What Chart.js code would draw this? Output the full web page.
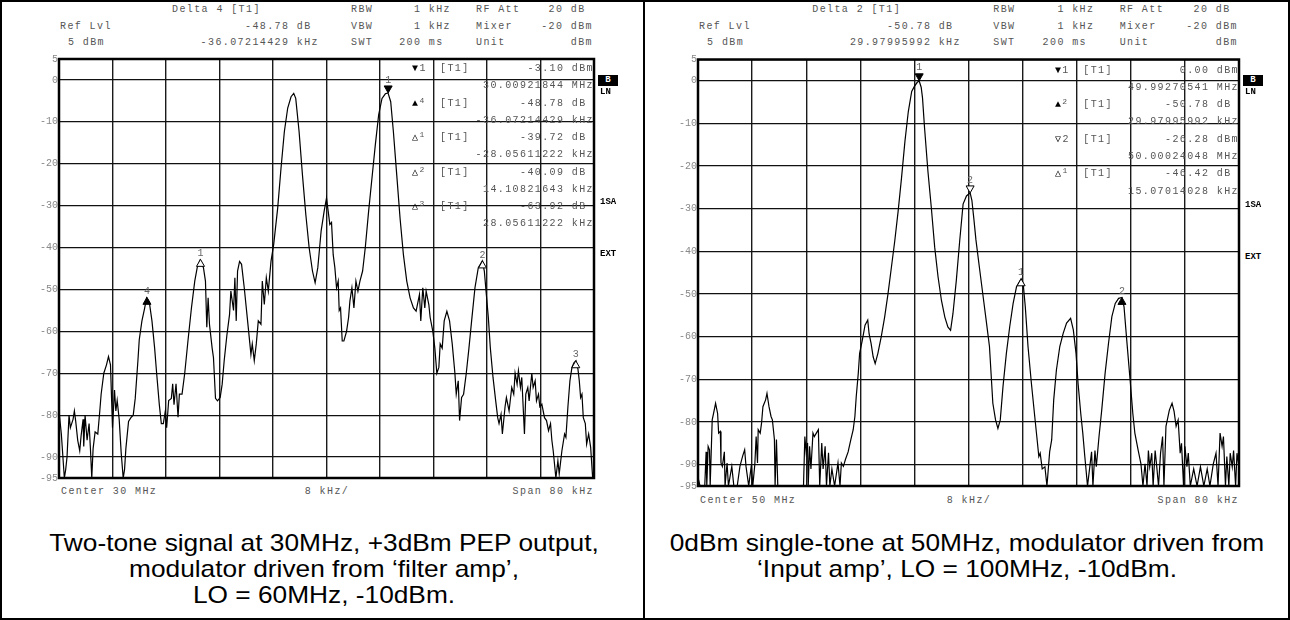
<!DOCTYPE html>
<html>
<head>
<meta charset="utf-8">
<script src="https://cdn.jsdelivr.net/npm/chart.js@4.4.1/dist/chart.umd.min.js"></script>
<style>
  body { margin: 0; background: #fff; }
  #page { position: relative; width: 1290px; height: 620px; overflow: hidden; background: #fff; }
  #outer { position: absolute; left: 0; top: 0; width: 1290px; height: 620px; border: 2px solid #000; box-sizing: border-box; }
  #divider { position: absolute; left: 643px; top: 0; width: 2px; height: 620px; background: #000; }
  canvas { position: absolute; }
  .mono { position: absolute; font-family: "Liberation Mono", "Courier New", monospace; font-size: 10px; letter-spacing: 1.4px; color: #555; white-space: pre; line-height: 12px; }
  .mono sup { font-size: 8px; vertical-align: 3px; line-height: 0; }
  .sym { color: #000; }
  .side { position: absolute; font-family: "Liberation Mono", monospace; font-weight: bold; font-size: 9px; color: #000; line-height: 10px; }
  .bbox { position: absolute; width: 20px; height: 11px; background: #000; color: #fff; font-family: "Liberation Mono", monospace; font-weight: bold; font-size: 9px; line-height: 11px; text-align: center; }
  .cap { position: absolute; width: 640px; font-family: "Liberation Sans", Arial, sans-serif; font-size: 24px; line-height: 26px; text-align: center; color: #000; transform: scaleX(1.095); transform-origin: 50% 0; }
</style>
</head>
<body>
<div id="page">
  <div id="outer"></div>
  <div id="divider"></div>
  <canvas id="chartLeft" width="570" height="435" style="left:30px;top:50px"></canvas>
  <canvas id="chartRight" width="577" height="443" style="left:668px;top:50px"></canvas>
  <div class="cap" style="left:4px;top:530px">Two-tone signal at 30MHz, +3dBm PEP output,<br>modulator driven from ‘filter amp’,<br>LO = 60MHz, -10dBm.</div>
  <div class="cap" style="left:647px;top:530px">0dBm single-tone at 50MHz, modulator driven from<br>‘Input amp’, LO = 100MHz, -10dBm.</div>
</div>
<script>
// y axis labels (dBm)
const yTicks = [5, 0, -10, -20, -30, -40, -50, -60, -70, -80, -90, -95];

// Left trace: two-tone, 30 MHz centre, offset in kHz
const leftFreq = [
  -40, -39.65, -39.2, -39.0, -38.8, -38.5, -38.3, -37.9, -37.7, -37.5, -37.2, -36.9, -36.7, -36.4, -36.3, -36.1,
  -35.8, -35.5, -35.3, -35.1, -34.9, -34.6, -34.2, -33.9, -33.7, -33.3, -32.9, -32.6, -32.3, -32.0, -31.7, -31.5,
  -31.3, -31.0, -30.7, -30.4, -30.2, -30.0, -29.6, -29.2, -28.9, -28.6, -28.2, -28.0, -27.6, -27.2, -26.9, -26.5,
  -26.1, -25.7, -25.4, -25.0, -24.7, -24.4, -24.1, -23.9, -23.6, -23.2, -23.0, -22.8, -22.5, -22.2, -22.0, -21.6,
  -21.2, -20.7, -20.2, -19.7, -19.3, -18.9, -18.4, -18.1, -17.9, -17.7, -17.5, -17.1, -16.9, -16.6, -16.3, -15.9,
  -15.6, -15.3, -14.9, -14.5, -14.3, -13.9, -13.7, -13.5, -13.3, -13.0, -12.7, -12.3, -11.8, -11.3, -11.1, -10.8,
  -10.5, -10.2, -9.8, -9.6, -9.3, -9.0, -8.7, -8.3, -7.9, -7.3, -6.8, -6.3, -5.8, -5.3, -4.9, -4.6,
  -4.1, -3.6, -3.1, -2.6, -2.1, -1.7, -1.3, -0.8, -0.35, 0.0, 0.25, 0.5, 0.75, 1.0, 1.25, 1.5,
  1.75, 1.9, 2.1, 2.35, 2.6, 3.0, 3.3, 3.5, 3.8, 4.1, 4.4, 4.7, 5.0, 5.4, 5.8, 6.3,
  6.8, 7.3, 7.8, 8.3, 8.8, 9.2, 9.6, 10.0, 10.5, 11.0, 11.5, 12.0, 12.5, 13.0, 13.4, 13.7,
  13.9, 14.1, 14.4, 14.7, 14.9, 15.3, 15.5, 15.9, 16.2, 16.5, 16.8, 17.0, 17.3, 17.6, 18.0, 18.4,
  18.8, 19.2, 19.4, 19.7, 19.9, 20.2, 20.5, 20.9, 21.3, 21.7, 22.2, 22.7, 23.3, 23.6, 23.9, 24.2,
  24.5, 24.9, 25.3, 25.6, 25.8, 26.1, 26.3, 26.7, 26.9, 27.3, 27.7, 28.0, 28.2, 28.5, 28.7, 29.0,
  29.2, 29.6, 29.8, 30.1, 30.3, 30.7, 30.9, 31.2, 31.4, 31.7, 31.9, 32.2, 32.6, 32.9, 33.2, 33.5,
  33.7, 33.9, 34.3, 34.6, 34.8, 35.2, 35.6, 35.8, 36.1, 36.4, 36.7, 37.0, 37.3, 37.6, 37.8, 38.0,
  38.2, 38.4, 38.7, 38.9, 39.2, 39.5, 39.8, 40
];
const leftLevel = [
  -79, -84.5, -95, -93, -90, -80, -83, -81, -79, -81.5, -86, -88.5, -85, -81, -87.5, -80,
  -86, -82, -88, -95, -88, -84, -84.5, -79, -75, -70, -68, -66, -68, -83, -74, -79,
  -76.5, -81, -89, -95, -93, -88, -81.5, -80.5, -80, -76, -67, -62, -57.5, -54.5, -52, -53,
  -57.5, -64, -70, -77.5, -82, -82, -79, -83, -76.5, -76, -72.5, -77.5, -72.5, -80.5, -75, -75,
  -70, -62, -54.5, -48, -44.5, -43, -44.8, -48, -59, -52, -58.3, -64, -66.3, -76, -76.6, -75.8,
  -72.6, -67, -61, -56, -50.4, -55, -47.2, -57.5, -45.6, -43.3, -44, -49.6, -57.5, -65.5, -63, -67,
  -63, -57.5, -58.3, -48, -53.6, -47.2, -50.4, -43.3, -39.3, -30.6, -21, -12.3, -6.7, -4, -3.2, -4.4,
  -12.3, -22.6, -32, -40, -45.6, -48.4, -44.8, -36, -31.3, -28.2, -31.3, -34.5, -34, -41.7, -44.8, -49.6,
  -48, -55, -54.4, -62.3, -62.3, -60, -56.7, -52.8, -49.6, -54.4, -48, -50.4, -48, -45.6, -40, -31.3,
  -23.4, -15.5, -8.3, -4.4, -3.3, -3.1, -5.2, -12.3, -22.6, -33, -41.7, -48, -52, -54.4, -55.2, -52.8,
  -51.2, -57.5, -49.6, -54.4, -50.4, -53.6, -56.7, -60, -64, -70, -68.6, -63, -64, -57.5, -55.2, -57.5,
  -63, -70, -75, -71.8, -81.3, -75.8, -75, -70, -64, -57.5, -49.6, -44.8, -43.2, -45.6, -51.2, -56.7,
  -64, -71, -76.6, -80.6, -82, -79.8, -84.5, -78, -75.8, -79, -73.4, -75, -70, -72.6, -69.4, -73.4,
  -71, -84.5, -75, -73.4, -76.6, -70, -73.4, -71.8, -76.6, -75, -78, -77.4, -80.6, -81.3, -83.7, -82,
  -86, -88.5, -95, -90.9, -94, -88.5, -84.5, -85.3, -78, -71.8, -68.6, -67.5, -67, -69, -71.8, -75.8,
  -75, -80.6, -82, -86.9, -84.5, -87.7, -95, -93
];

// Right trace: single tone, 50 MHz centre, offset in kHz
const rightFreq = [
  -40, -39.7, -39.0, -38.8, -38.7, -38.5, -38.3, -38.2, -37.9, -37.7, -37.4, -37.1, -36.95, -36.7, -36.6, -36.4,
  -36.1, -36.0, -35.7, -35.5, -35.0, -34.7, -34.2, -33.8, -33.4, -33.1, -32.9, -32.5, -32.1, -31.9, -31.6, -31.4,
  -31.2, -31.1, -30.8, -30.6, -30.4, -30.2, -30.0, -29.8, -29.5, -29.2, -29.0, -28.7, -28.6, -28.4, -28.2, -27.9,
  -24.5, -24.4, -24.2, -24.0, -23.8, -23.7, -23.5, -23.3, -23.0, -22.8, -22.5, -22.2, -22.0, -21.7, -21.5, -21.2,
  -21.0, -20.7, -20.5, -20.2, -19.8, -19.3, -19.0, -18.8, -18.5, -18.2, -17.8, -17.4, -17.05, -16.8, -16.6, -16.3,
  -16.1, -15.7, -15.3, -14.9, -14.7, -14.4, -14.1, -13.8, -13.4, -12.9, -12.4, -11.9, -11.4, -10.9, -10.4, -9.9,
  -9.4, -8.9, -8.4, -8.0, -7.6, -7.3, -7.0, -6.8, -6.5, -6.0, -5.5, -5.0, -4.5, -4.0, -3.5, -3.05,
  -2.65, -2.3, -1.8, -1.3, -0.8, -0.3, 0.24, 0.5, 0.8, 1.1, 1.6, 2.1, 2.6, 3.1, 3.6, 4.0,
  4.35, 4.7, 5.1, 5.6, 6.1, 6.6, 7.1, 7.78, 8.1, 8.4, 8.8, 9.3, 9.8, 10.1, 10.4, 10.6,
  10.9, 11.3, 11.6, 12.0, 12.3, 12.6, 13.0, 13.5, 14.0, 14.5, 15.1, 15.5, 15.9, 16.2, 16.6, 16.9,
  17.2, 17.6, 17.9, 18.2, 18.4, 18.7, 18.9, 19.3, 19.7, 20.2, 20.7, 21.2, 21.7, 22.2, 22.69, 23.0,
  23.4, 23.9, 24.3, 24.6, 25.1, 25.5, 25.8, 26.1, 26.4, 26.6, 26.8, 27.1, 27.3, 27.6, 27.8, 28.1,
  28.4, 28.7, 28.9, 29.2, 29.4, 29.7, 30.1, 30.4, 30.7, 31.0, 31.3, 31.5, 31.8, 32.0, 32.3, 32.5,
  32.8, 33.3, 33.8, 34.3, 34.8, 35.3, 35.7, 36.2, 36.6, 36.9, 37.2, 37.5, 37.7, 38.0, 38.2, 38.5,
  38.7, 39.0, 39.2, 39.5, 39.7, 40
];
const rightLevel = [
  -93, -95, -95, -87, -95, -85.7, -86.5, -95, -79.5, -78, -75.6, -78, -82.6, -82.2, -89.6, -90.4,
  -87, -95, -89.6, -95, -90.4, -95, -95, -90.4, -88, -86.5, -90.4, -95, -90, -95, -90, -83.4,
  -89.6, -81.8, -82.6, -80.2, -76.4, -75.6, -74.8, -73.3, -76.4, -78.7, -79.5, -84.1, -95, -84.1, -95, -95,
  -95, -95, -83.4, -87.2, -84.9, -95, -85.7, -91, -82.6, -83.4, -82.6, -81.8, -95, -84.9, -91, -85.7,
  -95, -87.2, -95, -91, -95, -89.6, -95, -89.6, -90.4, -88.8, -87, -84.1, -81.8, -78.7, -74, -68.6,
  -63.9, -60.8, -57.3, -56.1, -59.3, -61.6, -64.7, -66.3, -63.9, -60, -55.4, -49.9, -43.7, -37.5, -30.5, -22.7,
  -14.2, -7.2, -2.5, -1.3, -0.4, 0.0, -1.5, -4, -11, -21.2, -29.7, -39, -46, -51.5, -55.4, -57.7,
  -58.5, -54.6, -46.8, -37.5, -28.9, -27, -26.28, -28, -32.5, -37.3, -43.6, -49.8, -56, -62.3, -75.6, -79.5,
  -81.5, -79.5, -71.7, -63.9, -57.6, -52.2, -48.3, -46.42, -47.8, -53, -62.3, -70.9, -78.75, -83.4, -88.1, -87.3,
  -91, -90.5, -95, -87, -84.2, -74.8, -67.8, -62.3, -59.2, -56.8, -55.7, -58.4, -63.9, -70.9, -78, -82.6,
  -88.1, -95, -91, -87, -95, -86.7, -90.5, -83.4, -77.2, -68.6, -61.6, -55.3, -52.2, -51, -50.78, -53,
  -60.8, -70.2, -78, -82.6, -86.7, -89.8, -95, -89.8, -95, -86.7, -90.5, -87.3, -95, -86.7, -89.8, -95,
  -87.3, -83.4, -95, -81, -79.5, -77.2, -75.6, -77.5, -81, -79.5, -87.3, -85, -95, -85.7, -90.5, -87.3,
  -95, -91, -95, -90.5, -95, -91, -95, -89.8, -87.3, -95, -82.6, -85.7, -83.4, -95, -88.1, -95,
  -87.3, -90.5, -86.7, -95, -87.3, -90.5
];

// Markers drawn on the traces
const leftMarkerFreq = [9.22, -26.85, -18.84, 23.33, 37.28];
const leftMarkerLevel = [-3.10, -51.88, -42.82, -43.19, -67.02];
const leftMarkerLabel = ['1', '4', '1', '2', '3'];
const leftMarkerKind = ['downFilled', 'upFilled', 'upOpen', 'upOpen', 'upOpen'];

const rightMarkerFreq = [-7.29, 0.24, 7.78, 22.69];
const rightMarkerLevel = [0.00, -26.28, -46.42, -50.78];
const rightMarkerLabel = ['1', '2', '1', '2'];
const rightMarkerKind = ['downFilled', 'downOpen', 'upOpen', 'upFilled'];

// Header / marker readouts
const leftHeader = { delta: 'Delta 4 [T1]', deltaLevel: '-48.78 dB\u00a0', deltaFreq: '-36.07214429 kHz', center: 'Center 30 MHz' };
const rightHeader = { delta: 'Delta 2 [T1]', deltaLevel: '-50.78 dB\u00a0', deltaFreq: '29.97995992 kHz', center: 'Center 50 MHz' };

const leftTable = [
  ['▼', '1', false, '-3.10 dBm'], [null, null, false, '30.00921844 MHz'],
  ['▲', '4', true, '-48.78 dB\u00a0'], [null, null, false, '-36.07214429 kHz'],
  ['△', '1', true, '-39.72 dB\u00a0'], [null, null, false, '-28.05611222 kHz'],
  ['△', '2', true, '-40.09 dB\u00a0'], [null, null, false, '14.10821643 kHz'],
  ['△', '3', true, '-63.92 dB\u00a0'], [null, null, false, '28.05611222 kHz']
];
const rightTable = [
  ['▼', '1', false, '0.00 dBm'], [null, null, false, '49.99270541 MHz'],
  ['▲', '2', true, '-50.78 dB\u00a0'], [null, null, false, '29.97995992 kHz'],
  ['▽', '2', false, '-26.28 dBm'], [null, null, false, '50.00024048 MHz'],
  ['△', '1', true, '-46.42 dB\u00a0'], [null, null, false, '15.07014028 kHz']
];

const page = document.getElementById('page');

function addText(txt, x, yc, align, cls) {
  const d = document.createElement('div');
  d.className = cls || 'mono';
  d.innerHTML = txt;
  d.style.left = x + 'px';
  d.style.top = yc + 'px';
  const tx = align === 'right' ? '-100%' : (align === 'center' ? '-50%' : '0');
  d.style.transform = `translate(${tx}, -50%)`;
  page.appendChild(d);
  return d;
}

function buildPanel(fl, w, bottom, head, table, rowStart, rowStep, sideY) {
  const k = w / 535;
  const px = (o) => fl + o * k;
  const r1 = 10, r2 = 27, r3 = 43;

  addText('Ref Lvl', px(1), r2, 'left');
  addText('5 dBm', px(9), r3, 'left');
  addText(head.delta, px(113), r1, 'left');
  addText(head.deltaLevel, px(260), r2, 'right');
  addText(head.deltaFreq, px(260), r3, 'right');
  addText('RBW', px(292), r1, 'left');
  addText('VBW', px(292), r2, 'left');
  addText('SWT', px(292), r3, 'left');
  addText('1 kHz', px(392), r1, 'right');
  addText('1 kHz', px(392), r2, 'right');
  addText('200 ms\u00a0', px(392), r3, 'right');
  addText('RF Att', px(417), r1, 'left');
  addText('Mixer', px(417), r2, 'left');
  addText('Unit', px(417), r3, 'left');
  addText('20 dB\u00a0', px(534), r1, 'right');
  addText('-20 dBm', px(534), r2, 'right');
  addText('dBm', px(534), r3, 'right');

  table.forEach((row, i) => {
    const y = rowStart + i * rowStep;
    if (row[0]) {
      const num = row[2] ? `<sup>${row[1]}</sup>` : row[1];
      addText(`<span class="sym">${row[0]}</span>${num}`, px(353), y, 'left');
      addText('[T1]', px(381), y, 'left');
    }
    addText(row[3], px(535), y, 'right');
  });

  const b = document.createElement('div');
  b.className = 'bbox';
  b.textContent = 'B';
  b.style.left = (fl + w + 4) + 'px';
  b.style.top = '75px';
  page.appendChild(b);
  addText('LN', fl + w + 6, 92, 'left', 'side');
  addText('1SA', fl + w + 6, sideY[0], 'left', 'side');
  addText('EXT', fl + w + 6, sideY[1], 'left', 'side');

  addText(head.center, px(2), bottom + 13, 'left');
  addText('8 kHz/', px(268), bottom + 13, 'center');
  addText('Span 80 kHz', px(535), bottom + 13, 'right');
}

function makeOverlay(mFreq, mLevel, mLabel, mKind) {
  return {
    id: 'overlay',
    afterDatasetsDraw(chart) {
      const { ctx, chartArea: a, scales: { x, y } } = chart;
      ctx.save();
      ctx.strokeStyle = '#000';
      ctx.lineWidth = 2.5;
      ctx.strokeRect(a.left, a.top, a.right - a.left, a.bottom - a.top);

      mFreq.forEach((f, i) => {
        const mx = x.getPixelForValue(f);
        const my = y.getPixelForValue(mLevel[i]);
        const down = mKind[i].startsWith('down');
        const filled = mKind[i].endsWith('Filled');
        const hw = 4, h = 7;
        ctx.beginPath();
        if (down) {
          ctx.moveTo(mx, my);
          ctx.lineTo(mx - hw, my - h);
          ctx.lineTo(mx + hw, my - h);
        } else {
          ctx.moveTo(mx, my);
          ctx.lineTo(mx - hw, my + h);
          ctx.lineTo(mx + hw, my + h);
        }
        ctx.closePath();
        ctx.fillStyle = filled ? '#000' : '#fff';
        ctx.fill();
        ctx.lineWidth = 1;
        ctx.strokeStyle = '#000';
        ctx.stroke();

        ctx.fillStyle = '#666';
        ctx.font = '10px "Liberation Mono", monospace';
        ctx.textAlign = 'center';
        ctx.textBaseline = 'bottom';
        ctx.fillText(mLabel[i], mx, (down ? my - h : my) - 1);
      });
      ctx.restore();
    }
  };
}

function drawSpectrum(id, freq, level, padTop, padBottom, axisWidth, overlay) {
  const ctx = document.getElementById(id).getContext('2d');
  return new Chart(ctx, {
    type: 'line',
    data: {
      datasets: [{
        data: freq.map((f, i) => ({ x: f, y: level[i] })),
        borderColor: '#000',
        borderWidth: 1.2,
        pointRadius: 0,
        tension: 0,
        fill: false
      }]
    },
    options: {
      responsive: false,
      animation: false,
      layout: { padding: { top: padTop, bottom: padBottom, right: 6, left: 0 } },
      plugins: { legend: { display: false }, tooltip: { enabled: false } },
      scales: {
        x: {
          type: 'linear',
          min: -40,
          max: 40,
          ticks: { stepSize: 8, display: false },
          grid: { color: '#1a1a1a', lineWidth: 1.4, drawTicks: false },
          border: { display: false },
          afterFit: (s) => { s.height = 0; }
        },
        y: {
          min: -95,
          max: 5,
          afterBuildTicks: (s) => { s.ticks = yTicks.map(v => ({ value: v })); },
          ticks: {
            color: '#888',
            padding: 1,
            autoSkip: false,
            font: { family: '"Liberation Mono", monospace', size: 10 }
          },
          grid: { color: '#111', lineWidth: 1.3, drawTicks: false },
          border: { display: false },
          afterFit: (s) => { s.width = axisWidth; }
        }
      }
    },
    plugins: [overlay]
  });
}

buildPanel(59, 535, 479, leftHeader, leftTable, 69, 17.25, [202, 254]);
buildPanel(698, 541, 488, rightHeader, rightTable, 70.5, 17.3, [205, 257]);

drawSpectrum('chartLeft', leftFreq, leftLevel, 9, 6, 29,
  makeOverlay(leftMarkerFreq, leftMarkerLevel, leftMarkerLabel, leftMarkerKind));
drawSpectrum('chartRight', rightFreq, rightLevel, 9.5, 5, 30,
  makeOverlay(rightMarkerFreq, rightMarkerLevel, rightMarkerLabel, rightMarkerKind));
</script>
</body>
</html>
